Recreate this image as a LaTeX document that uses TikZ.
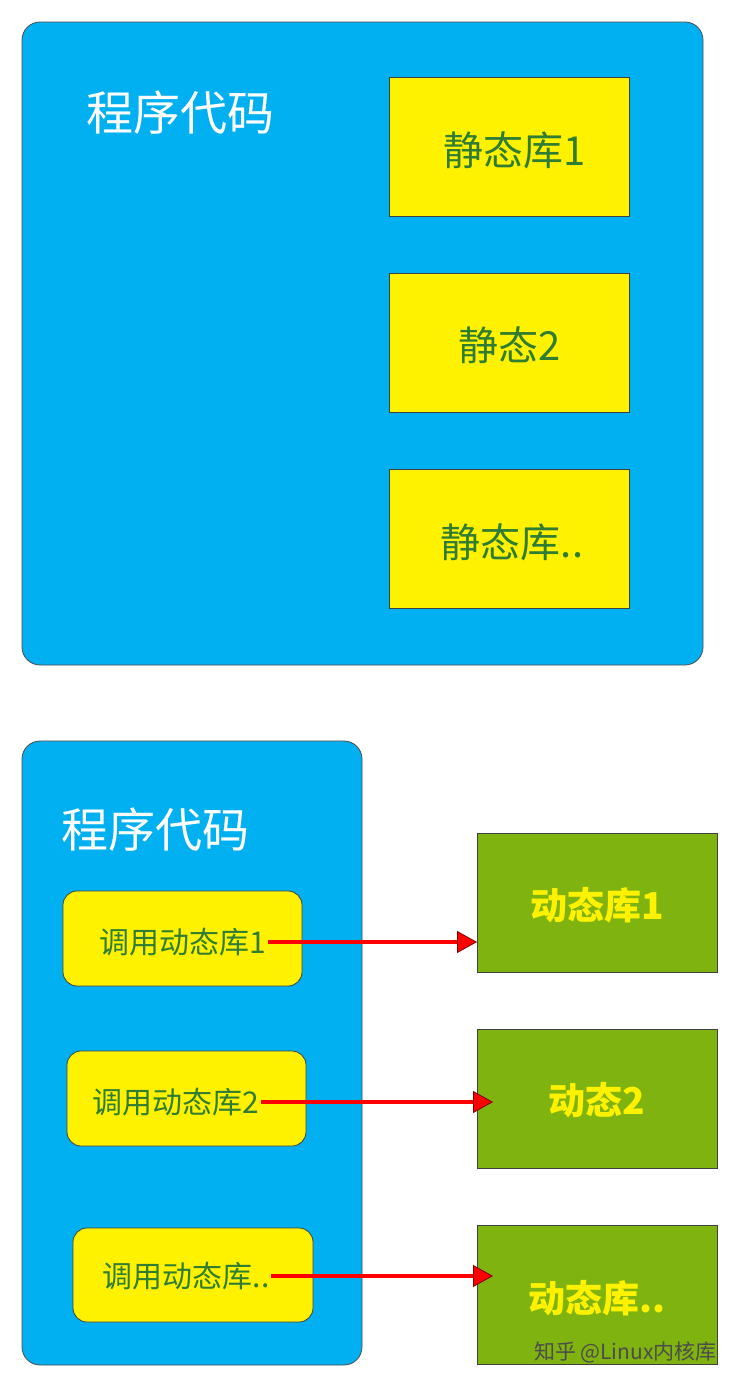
\documentclass[tikz,border=0pt]{standalone}
\usepackage{fontspec}
\setmainfont{Noto Sans CJK SC}
\usetikzlibrary{arrows.meta}
\definecolor{skyblue}{HTML}{00B0F0}
\definecolor{libyellow}{HTML}{FFF200}
\definecolor{libgreen}{HTML}{7FB30F}
\definecolor{txtgreen}{HTML}{2E7D32}
\begin{document}
\begin{tikzpicture}[%
      x=1pt, y=-1pt,
      progbox/.style={fill=skyblue, draw=black!70, line width=0.8pt, rounded corners=18pt},
      staticlib/.style={fill=libyellow, draw=black!75, line width=0.8pt},
      calllib/.style={fill=libyellow, draw=black!75, line width=0.8pt, rounded corners=14pt},
      dynlib/.style={fill=libgreen, draw=black!75, line width=0.8pt},
      call/.style={draw=red, line width=4pt, -{Triangle[length=20pt,width=22pt,fill=red,line width=0.8pt,color=black!50!red]}},
      ]
      \useasboundingbox (0,0) rectangle (736,1384);
      \fill [white] (0,0) rectangle (736,1384);
      
      \draw [progbox] (22,22) rectangle (703,665);
      \node [text=white, font=\fontsize{47}{50}\selectfont] (prog1) at (180,113) {程序代码};
      \draw [staticlib] (389,77) rectangle (629,216);
      \node [text=txtgreen, font=\fontsize{40}{44}\selectfont] (s1) at (515,150) {静态库1};
      \draw [staticlib] (389,273) rectangle (629,412);
      \node [text=txtgreen, font=\fontsize{40}{44}\selectfont] (s2) at (510,345) {静态2};
      \draw [staticlib] (389,469) rectangle (629,608);
      \node [text=txtgreen, font=\fontsize{40}{44}\selectfont] (s3) at (512,542) {静态库..};
      
      \draw [progbox] (22,741) rectangle (362,1365);
      \node [text=white, font=\fontsize{47}{50}\selectfont] (prog2) at (155,830) {程序代码};
      
      \draw [calllib] (63,891) rectangle (302,986);
      \node [text=txtgreen, font=\fontsize{30}{32}\selectfont, inner sep=1pt] (c1) at (183,942) {调用动态库1};
      \draw [calllib] (67,1051) rectangle (306,1146);
      \node [text=txtgreen, font=\fontsize{30}{32}\selectfont, inner sep=1pt] (c2) at (176,1102) {调用动态库2};
      \draw [calllib] (73,1228) rectangle (313,1322);
      \node [text=txtgreen, font=\fontsize{30}{32}\selectfont, inner sep=1pt] (c3) at (186,1276) {调用动态库..};
      
      \node [dynlib, minimum width=240pt, minimum height=139pt, anchor=north west] (d1) at (477,833) {};
      \node [text=libyellow, font=\bfseries\fontsize{37}{40}\selectfont] (t1) at (597,905) {动态库1};
      \node [dynlib, minimum width=240pt, minimum height=139pt, anchor=north west] (d2) at (477,1029) {};
      \node [text=libyellow, font=\bfseries\fontsize{37}{40}\selectfont] (t2) at (597,1100) {动态2};
      \node [dynlib, minimum width=240pt, minimum height=139pt, anchor=north west] (d3) at (477,1225) {};
      \node [text=libyellow, font=\bfseries\fontsize{37}{40}\selectfont] (t3) at (597,1298) {动态库..};
      
      \draw [call] (c1.east) -- (d1.west |- c1.east);
      \draw [call] (c2.east) -- ([xshift=16pt]d2.west |- c2.east);
      \draw [call] (c3.east) -- ([xshift=16pt]d3.west |- c3.east);
      
      \node [text=black!70, font=\fontsize{21}{24}\selectfont, anchor=east, inner sep=1pt] (mark) at (718,1352) {知乎 @Linux内核库};
      \end{tikzpicture}
\end{document}
